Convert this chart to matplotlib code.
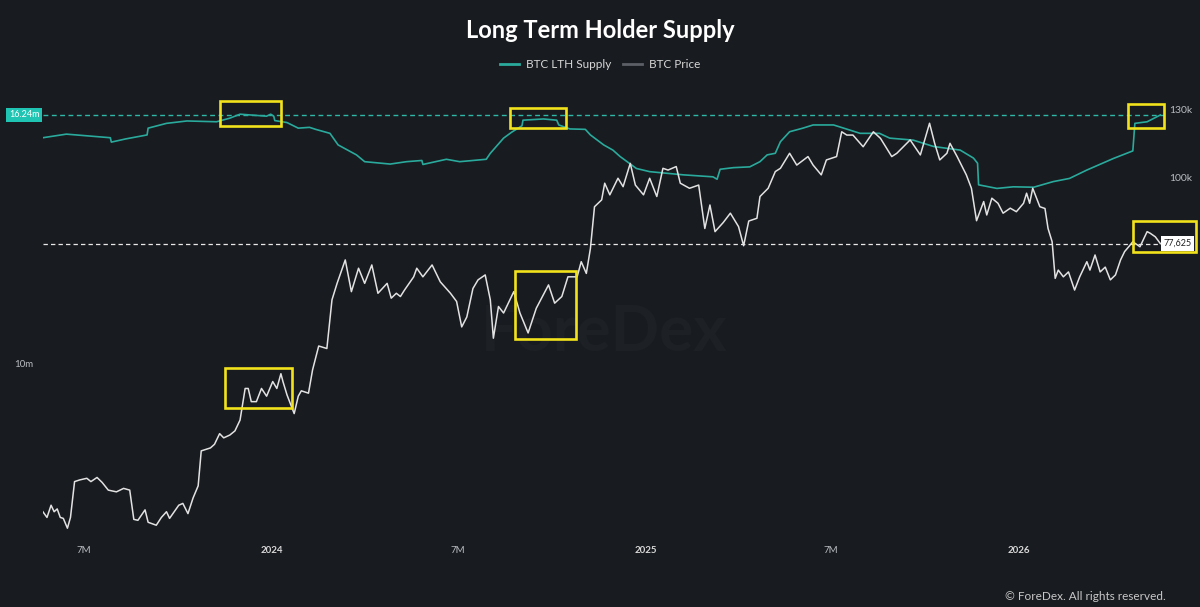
import matplotlib
matplotlib.use('Agg')
import matplotlib.pyplot as plt
import matplotlib.dates as mdates
import matplotlib.transforms as mtransforms
from matplotlib.lines import Line2D
from matplotlib.patches import Rectangle
from matplotlib.ticker import NullLocator
import pandas as pd

plt.rcParams['font.family'] = ['Lato', 'DejaVu Sans']

# ---------------- data ----------------
BASE_DATE = '2024-01-01'  # day offsets below are counted from this date

price_day = [-224, -220, -216, -213, -210, -207, -204, -200, -197, -193,
             -188, -181, -177, -171, -166, -160, -152, -145, -139, -135,
             -131, -124, -121, -113, -108, -103, -100, -91, -87, -82,
             -77, -72, -69, -60, -56, -51, -47, -41, -36, -31,
             -26, -23, -20, -15, -10, -5, 1, 5, 9, 11,
             15, 18, 22, 26, 29, 36, 40, 46, 54, 59,
             64, 72, 78, 85, 91, 98, 104, 113, 117, 122,
             126, 130, 139, 142, 148, 157, 165, 175, 181, 186,
             191, 197, 202, 209, 214, 217, 222, 227, 237, 243,
             251, 259, 271, 277, 284, 290, 299, 303, 308, 312,
             316, 323, 326, 331, 339, 344, 351, 356, 364, 370,
             377, 383, 388, 396, 400, 409, 418, 424, 429, 434,
             442, 449, 457, 462, 467, 475, 478, 486, 493, 498,
             507, 514, 525, 530, 538, 543, 553, 558, 563, 569,
             579, 589, 596, 607, 612, 625, 635, 644, 649, 654,
             661, 664, 671, 680, 685, 690, 697, 700, 705, 711,
             716, 723, 729, 736, 739, 742, 745, 752, 757, 760,
             764, 767, 770, 775, 780, 786, 791, 798, 801, 806,
             811, 816, 821, 826, 831, 835, 839, 843, 850, 857,
             860, 865, 870]

price_k = [27.6, 27.0, 28.3, 27.6, 27.9, 27.0, 26.9, 25.9, 27.0, 31.0,
           31.2, 31.4, 31.0, 31.5, 30.9, 30.0, 29.8, 30.2, 30.0, 26.8,
           26.7, 27.8, 26.5, 26.2, 27.0, 27.6, 26.9, 28.3, 28.5, 27.4,
           29.1, 30.5, 34.9, 35.3, 35.8, 37.3, 36.7, 37.1, 37.7, 39.3,
           44.4, 44.4, 42.2, 42.2, 44.4, 43.1, 45.6, 44.4, 47.0, 45.6,
           43.3, 42.0, 40.3, 43.1, 44.0, 43.6, 47.7, 52.3, 51.8, 62.5,
           66.6, 72.9, 64.5, 70.6, 66.6, 71.5, 64.1, 66.6, 62.9, 64.1,
           63.3, 64.9, 68.3, 70.6, 68.3, 71.5, 67.0, 64.1, 62.1, 56.3,
           58.5, 65.3, 67.5, 68.8, 62.5, 53.9, 60.9, 59.4, 64.5, 59.4,
           55.0, 60.5, 66.2, 61.7, 63.3, 68.3, 68.3, 72.4, 69.2, 76.2,
           89.5, 91.9, 98.0, 93.7, 99.9, 96.7, 105.8, 97.3, 93.7, 99.9,
           93.1, 103.8, 103.1, 104.5, 98.0, 96.1, 97.3, 82.3, 90.1, 81.3,
           84.2, 87.3, 82.9, 77.0, 84.7, 85.6, 93.1, 96.1, 102.5, 103.8,
           110.0, 105.1, 108.6, 105.1, 101.2, 107.2, 108.6, 119.5, 118.0, 118.0,
           112.8, 119.5, 116.5, 108.6, 110.0, 115.8, 109.3, 123.5, 114.3, 107.2,
           110.0, 114.3, 108.6, 101.2, 96.1, 84.8, 91.3, 86.7, 92.5, 90.7,
           87.3, 89.0, 87.8, 90.7, 94.3, 90.7, 96.1, 89.5, 88.9, 82.3,
           78.2, 67.9, 70.1, 68.3, 69.6, 64.9, 68.3, 72.4, 70.1, 74.3,
           69.6, 70.9, 67.5, 68.8, 72.9, 75.3, 76.7, 78.2, 76.7, 81.3,
           80.8, 79.7, 77.625]

supply_day = [-224, -201, -158, -157, -143, -122, -121, -103, -83, -54,
              -41, -31, -5, -1, 2, 3, 15, 26, 37, 43,
              57, 65, 83, 91, 116, 132, 147, 148, 171, 184,
              210, 214, 227, 235, 245, 246, 266, 279, 281, 292,
              307, 312, 325, 334, 341, 357, 370, 403, 432, 436,
              439, 452, 468, 478, 485, 493, 498, 507, 520, 530,
              550, 560, 576, 595, 605, 628, 648, 674, 687, 691,
              692, 710, 726, 746, 765, 781, 798, 824, 843, 845,
              857, 870]

supply_m = [15.67, 15.76, 15.67, 15.56, 15.64, 15.74, 15.91, 16.03, 16.09, 16.07,
            16.16, 16.26, 16.21, 16.26, 16.21, 16.10, 16.05, 15.91, 15.93, 15.88,
            15.78, 15.49, 15.24, 15.07, 15.01, 15.07, 15.10, 15.00, 15.13, 15.07,
            15.13, 15.28, 15.66, 15.81, 15.97, 16.11, 16.14, 16.11, 15.99, 15.89,
            15.88, 15.74, 15.49, 15.36, 15.20, 14.90, 14.82, 14.74, 14.69, 14.63,
            14.88, 14.92, 14.94, 15.07, 15.24, 15.28, 15.57, 15.82, 15.91, 15.99,
            15.99, 15.91, 15.78, 15.78, 15.66, 15.61, 15.45, 15.36, 15.16, 15.03,
            14.49, 14.40, 14.44, 14.43, 14.57, 14.65, 14.86, 15.15, 15.34, 16.03,
            16.07, 16.24]

x_tick_dates = ['2023-07-01', '2024-01-01', '2024-07-01', '2025-01-01', '2025-07-01', '2026-01-01']
x_tick_labels = ['7M', '2024', '7M', '2025', '7M', '2026']
supply_ticks = [10]
supply_tick_labels = ['10m']
price_ticks = [100, 130]
price_tick_labels = ['100k', '130k']

# highlight boxes
box_axis = ['supply', 'supply', 'supply', 'price', 'price', 'price']
box_start = ['2023-11-11', '2024-08-21', '2026-04-18', '2026-04-23', '2023-11-16', '2024-08-26']
box_end = ['2024-01-10', '2024-10-15', '2026-05-24', '2026-06-24', '2024-01-21', '2024-10-25']
box_low = [15.96, 15.91, 15.91, 75.2, 41.1, 53.8]
box_high = [16.59, 16.42, 16.52, 84.7, 48.1, 69.8]

# ---------------- style ----------------
BG = '#181b1f'
TEAL = '#2aaa9c'
PRICE_C = '#e2e2e2'
TXT = '#b9bcc1'
YELLOW = '#f2e21c'

base = pd.Timestamp(BASE_DATE)
price_dates = base + pd.to_timedelta(price_day, unit='D')
supply_dates = base + pd.to_timedelta(supply_day, unit='D')

fig = plt.figure(figsize=(12, 6.07), dpi=100, facecolor=BG)
ax = fig.add_axes([43 / 1200, 1 - 535 / 607, 1122 / 1200, 445 / 607])
ax.set_facecolor(BG)

ax.text(0.5, 0.456, 'ForeDex', transform=ax.transAxes, fontsize=46, weight='bold',
        color='#1d2025', ha='center', va='center', zorder=0)

ax.plot(supply_dates, supply_m, color=TEAL, lw=1.2, zorder=3)
ax.axhline(supply_m[-1], color='#2fb8a8', lw=1.0, ls=(0, (3.5, 2.5)), zorder=2)
ax.set_ylim(5.715, 16.866)
ax.set_xlim(base + pd.Timedelta(days=-223.9), base + pd.Timedelta(days=874.5))

axp = ax.twinx()
axp.set_yscale('log')
axp.plot(price_dates, price_k, color=PRICE_C, lw=1.1, zorder=3)
axp.axhline(price_k[-1], color='#e8e8e8', lw=0.9, ls=(0, (3.5, 2.5)), zorder=2)
axp.set_ylim(25.23, 140.4)
axp.set_xlim(ax.get_xlim())

for a in (ax, axp):
    for s in a.spines.values():
        s.set_visible(False)

ax.set_yticks(supply_ticks)
ax.set_yticklabels(supply_tick_labels)
ax.tick_params(axis='y', length=0, pad=7, labelsize=7, labelcolor=TXT)
axp.set_yticks(price_ticks)
axp.set_yticklabels(price_tick_labels)
axp.yaxis.set_minor_locator(NullLocator())
axp.tick_params(axis='y', which='both', length=0, pad=3, labelsize=7.5, labelcolor=TXT)

ax.set_xticks([pd.Timestamp(d) for d in x_tick_dates])
ax.set_xticklabels(x_tick_labels)
ax.tick_params(axis='x', length=0, pad=8, labelsize=7, labelcolor=TXT)
for lab in ax.get_xticklabels():
    if lab.get_text().isdigit():
        lab.set_fontweight('bold')
        lab.set_color('#d8d8d8')
axp.tick_params(axis='x', length=0)

# value badges
tr_s = mtransforms.blended_transform_factory(ax.transAxes, ax.transData)
ax.text(-0.003, supply_m[-1], f'{supply_m[-1]:.2f}m', transform=tr_s, ha='right', va='center',
        fontsize=6.5, color='white', clip_on=False,
        bbox=dict(boxstyle='square,pad=0.3', fc='#1fc4b2', ec='none'))
tr_p = mtransforms.blended_transform_factory(axp.transAxes, axp.transData)
axp.text(0.9985, price_k[-1], f'{price_k[-1] * 1000:,.0f}', transform=tr_p, ha='left', va='center',
         fontsize=6.5, color='#222222', clip_on=False, zorder=6,
         bbox=dict(boxstyle='square,pad=0.3', fc='white', ec='none'))

# highlight boxes
for kind, s, e, lo, hi in zip(box_axis, box_start, box_end, box_low, box_high):
    target = ax if kind == 'supply' else axp
    x0 = mdates.date2num(pd.Timestamp(s))
    x1 = mdates.date2num(pd.Timestamp(e))
    r = Rectangle((x0, lo), x1 - x0, hi - lo, fill=False, ec=YELLOW, lw=1.9,
                  clip_on=False, zorder=5)
    target.add_patch(r)

# title, legend, footer
fig.text(0.5, 1 - 31 / 607, 'Long Term Holder Supply', ha='center', va='center',
         fontsize=17, weight='bold', color='white')
handles = [Line2D([], [], color=TEAL, lw=2), Line2D([], [], color='#5c6066', lw=2)]
fig.legend(handles, ['BTC LTH Supply', 'BTC Price'], loc='center',
           bbox_to_anchor=(0.5, 1 - 65 / 607), ncol=2, frameon=False, fontsize=8.5,
           labelcolor='#d6d6d6', handlelength=1.6, columnspacing=1.0, handletextpad=0.6)
fig.text(1166 / 1200, 1 - 596 / 607, '\u00a9 ForeDex. All rights reserved.', ha='right',
         va='center', fontsize=8.5, color='#c8c8c8')

fig.savefig('out.png', dpi=100, facecolor=BG)
